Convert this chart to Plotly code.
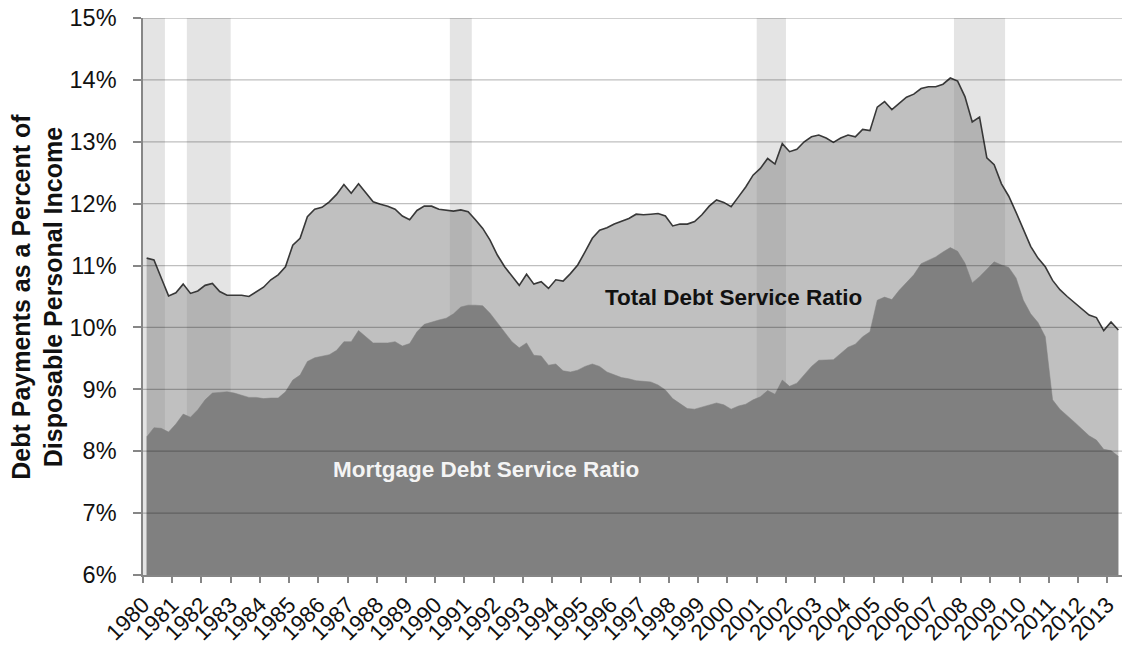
import plotly.graph_objects as go

# ---------------- data (quarterly, 1980Q1 - 2013Q2) ----------------
start_year = 1980
total_dsr = [
    11.12, 11.09, 10.80, 10.51, 10.56, 10.70, 10.55, 10.59, 10.68, 10.71,
    10.58, 10.52, 10.52, 10.52, 10.50, 10.58, 10.65, 10.77, 10.85, 10.98,
    11.33, 11.44, 11.79, 11.91, 11.94, 12.03, 12.15, 12.31, 12.17, 12.32,
    12.18, 12.03, 11.99, 11.96, 11.91, 11.80, 11.74, 11.89, 11.96, 11.96,
    11.91, 11.90, 11.88, 11.90, 11.87, 11.74, 11.60, 11.41, 11.17, 10.98,
    10.82, 10.68, 10.86, 10.70, 10.74, 10.63, 10.77, 10.75, 10.87, 11.01,
    11.22, 11.44, 11.57, 11.61, 11.67, 11.71, 11.76, 11.83, 11.82, 11.83,
    11.84, 11.80, 11.64, 11.67, 11.67, 11.71, 11.82, 11.96, 12.06, 12.02,
    11.95, 12.11, 12.27, 12.46, 12.57, 12.73, 12.64, 12.97, 12.84, 12.88,
    13.00, 13.08, 13.11, 13.06, 12.99, 13.06, 13.11, 13.08, 13.20, 13.18,
    13.56, 13.65, 13.52, 13.62, 13.72, 13.77, 13.86, 13.89, 13.89, 13.93,
    14.03, 13.98, 13.73, 13.32, 13.40, 12.74, 12.63, 12.32, 12.12, 11.86,
    11.59, 11.31, 11.12, 10.98, 10.76, 10.61, 10.50, 10.40, 10.29, 10.20,
    10.16, 9.95, 10.09, 9.96,
]
mortgage_dsr = [
    8.23, 8.38, 8.37, 8.31, 8.44, 8.60, 8.55, 8.67, 8.83, 8.94,
    8.95, 8.96, 8.94, 8.91, 8.87, 8.87, 8.85, 8.86, 8.86, 8.96,
    9.15, 9.23, 9.45, 9.51, 9.53, 9.56, 9.63, 9.77, 9.77, 9.95,
    9.85, 9.75, 9.75, 9.75, 9.77, 9.70, 9.74, 9.93, 10.05, 10.09,
    10.12, 10.15, 10.22, 10.33, 10.36, 10.36, 10.35, 10.23, 10.08, 9.93,
    9.77, 9.67, 9.75, 9.55, 9.54, 9.39, 9.41, 9.30, 9.28, 9.31,
    9.37, 9.41, 9.37, 9.28, 9.23, 9.19, 9.17, 9.14, 9.13, 9.12,
    9.07, 8.99, 8.85, 8.77, 8.69, 8.68, 8.71, 8.75, 8.78, 8.75,
    8.68, 8.73, 8.76, 8.83, 8.88, 8.98, 8.92, 9.15, 9.05, 9.10,
    9.23, 9.37, 9.47, 9.48, 9.48, 9.58, 9.68, 9.73, 9.85, 9.93,
    10.44, 10.49, 10.45, 10.60, 10.72, 10.85, 11.03, 11.08, 11.14, 11.22,
    11.29, 11.23, 11.04, 10.72, 10.82, 10.94, 11.06, 11.01, 10.97, 10.80,
    10.44, 10.22, 10.08, 9.85, 8.83, 8.68, 8.58, 8.47, 8.36, 8.25,
    8.18, 8.03, 8.01, 7.92,
]
# recessions (start, end) in fractional years
recession_start = [1980.0, 1981.5, 1990.5, 2001.0, 2007.75]
recession_end = [1980.75, 1983.0, 1991.25, 2002.0, 2009.5]

year_ticks = list(range(1980, 2014))
year_labels = [str(y) for y in year_ticks]
pct_ticks = list(range(6, 16))
pct_labels = [f"{v}%" for v in pct_ticks]

# quarter centres
x_q = [start_year + (i + 0.5) / 4 for i in range(len(total_dsr))]

FONT = "Arial, Liberation Sans, sans-serif"

fig = go.Figure()
fig.add_trace(go.Scatter(
    x=x_q, y=total_dsr, mode="lines", fill="tozeroy",
    fillcolor="rgba(129,129,129,0.5)",
    line=dict(color="#383838", width=1.6), hoverinfo="skip", showlegend=False,
))
fig.add_trace(go.Scatter(
    x=x_q, y=mortgage_dsr, mode="lines", fill="tozeroy",
    fillcolor="#808080",
    line=dict(color="#808080", width=0.5), hoverinfo="skip", showlegend=False,
))

shapes = []
for s, e in zip(recession_start, recession_end):
    shapes.append(dict(type="rect", xref="x", yref="paper", x0=s, x1=e, y0=0, y1=1,
                       fillcolor="#e4e4e4", line=dict(width=0), layer="below"))
for v in pct_ticks[1:]:
    shapes.append(dict(type="line", xref="paper", yref="y", x0=0, x1=1, y0=v, y1=v,
                       line=dict(color="rgba(0,0,0,0.25)", width=1.3), layer="above"))

fig.update_layout(
    width=1122, height=649,
    margin=dict(l=143, r=0, t=18, b=74),
    paper_bgcolor="white", plot_bgcolor="white",
    font=dict(family=FONT, color="#111111"),
    shapes=shapes,
    showlegend=False,
    annotations=[
        dict(text="<b>Total Debt Service Ratio</b>", x=2000.22, y=10.49, xref="x", yref="y",
             showarrow=False, font=dict(family=FONT, size=22.5, color="#111111")),
        dict(text="<b>Mortgage Debt Service Ratio</b>", x=1991.73, y=7.70, xref="x", yref="y",
             showarrow=False, font=dict(family=FONT, size=22.5, color="#f4f4f4")),
        dict(text="<b>Debt Payments as a Percent of<br>Disposable Personal Income</b>",
             x=-0.108, y=0.5, xref="paper", yref="paper", textangle=-90,
             xanchor="center", yanchor="middle", showarrow=False,
             font=dict(family=FONT, size=25, color="#111111")),
    ],
)
fig.update_xaxes(
    range=[1980, 2013.5], tickmode="array", tickvals=year_ticks, ticktext=year_labels,
    tickangle=-45, tickfont=dict(family=FONT, size=22.5, color="#111111"),
    showgrid=False, zeroline=False, showline=True, linecolor="#868686", linewidth=1.5,
    ticks="outside", ticklen=6, tickcolor="#868686", tickwidth=1.5, automargin=False,
)
fig.update_yaxes(
    range=[6, 15], tickmode="array", tickvals=pct_ticks, ticktext=pct_labels,
    tickfont=dict(family=FONT, size=23.5, color="#111111"),
    showgrid=False, zeroline=False, showline=True, linecolor="#868686", linewidth=1.5,
    ticks="outside", ticklen=8, tickcolor="#868686", tickwidth=1.5, automargin=False,
    ticklabelstandoff=12,
)

fig.write_html(
    "out.html",
    config={"displayModeBar": False},
    post_script="document.body.style.margin='0';document.body.style.overflow='hidden';",
)
